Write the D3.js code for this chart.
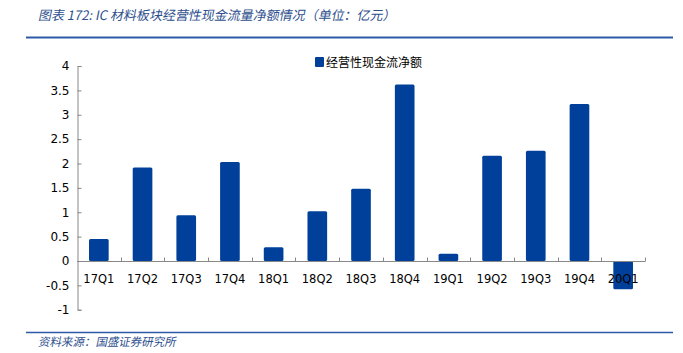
<!DOCTYPE html>
<html>
<head>
<meta charset="utf-8">
<script src="https://cdn.jsdelivr.net/npm/d3@7"></script>
<style>
  body { margin: 0; background: #fff; }
  svg { display: block; }
</style>
</head>
<body>
<svg width="683" height="353"></svg>
<script>
// Data
const quarters = ["17Q1", "17Q2", "17Q3", "17Q4", "18Q1", "18Q2", "18Q3", "18Q4", "19Q1", "19Q2", "19Q3", "19Q4", "20Q1"];
const cashFlow = [0.45, 1.92, 0.94, 2.03, 0.28, 1.02, 1.48, 3.62, 0.15, 2.16, 2.26, 3.22, -0.58];
const yTicks = [-1, -0.5, 0, 0.5, 1, 1.5, 2, 2.5, 3, 3.5, 4];
const seriesName = "经营性现金流净额";

const blue = "#00409a";
const svg = d3.select("svg");

// Header and footer (slanted like the report style)
svg.append("text")
  .attr("transform", "translate(38,20) skewX(-12)")
  .attr("font-family", "Noto Sans CJK SC")
  .attr("font-size", 13)
  .attr("fill", "#2d4f8e")
  .text("图表 172:  IC 材料板块经营性现金流量净额情况（单位：亿元）");

svg.append("line")
  .attr("x1", 26).attr("x2", 673).attr("y1", 37.5).attr("y2", 37.5)
  .attr("stroke", "#2d5aa8").attr("stroke-width", 2);

svg.append("line")
  .attr("x1", 26).attr("x2", 673).attr("y1", 332.5).attr("y2", 332.5)
  .attr("stroke", "#2d5aa8").attr("stroke-width", 1.5);

svg.append("text")
  .attr("transform", "translate(38,346) skewX(-12)")
  .attr("font-family", "Noto Sans CJK SC")
  .attr("font-size", 11.5)
  .attr("fill", "#2d4f8e")
  .text("资料来源：国盛证券研究所");

// Scales
const x = d3.scaleBand().domain(quarters).range([77, 645]).paddingInner(0.55).paddingOuter(0.275);
const y = d3.scaleLinear().domain([-1, 4]).range([309.75, 66]);

// Y axis
const yAxis = svg.append("g")
  .attr("transform", "translate(77.5,0)")
  .call(d3.axisRight(y).tickValues(yTicks).tickSize(4).tickFormat(d => String(d)));
yAxis.select(".domain").attr("stroke", "#888");
yAxis.selectAll(".tick line").attr("stroke", "#888");
yAxis.selectAll(".tick text")
  .attr("x", -8).attr("text-anchor", "end")
  .attr("font-family", "DejaVu Sans").attr("font-size", 12).attr("fill", "#000");

// Bars
svg.append("g").selectAll("rect")
  .data(quarters)
  .enter()
  .append("rect")
  .attr("x", d => x(d))
  .attr("width", x.bandwidth())
  .attr("y", (d, i) => y(Math.max(0, cashFlow[i])))
  .attr("height", (d, i) => Math.abs(y(cashFlow[i]) - y(0)))
  .attr("rx", 1.5)
  .attr("fill", blue);

// X axis at zero
const xGrid = d3.scaleLinear().domain([0, quarters.length]).range([77, 645]);
const xAxis = svg.append("g").attr("transform", `translate(0,${Math.round(y(0)) + 0.5})`);
xAxis.append("line")
  .attr("x1", 77).attr("x2", 645)
  .attr("stroke", "#888");
xAxis.selectAll(".sep")
  .data(d3.range(1, quarters.length + 1))
  .enter()
  .append("line")
  .attr("x1", d => Math.round(xGrid(d)) + 0.5)
  .attr("x2", d => Math.round(xGrid(d)) + 0.5)
  .attr("y1", 0).attr("y2", -4)
  .attr("stroke", "#888");
xAxis.selectAll(".lab")
  .data(quarters)
  .enter()
  .append("text")
  .attr("x", d => x(d) + x.bandwidth() / 2)
  .attr("y", 21)
  .attr("text-anchor", "middle")
  .attr("font-family", "DejaVu Sans").attr("font-size", 11.5).attr("fill", "#000")
  .text(d => d);

// Legend
svg.append("rect")
  .attr("x", 315).attr("y", 57).attr("width", 9).attr("height", 10)
  .attr("rx", 1).attr("fill", blue);
svg.append("text")
  .attr("x", 326).attr("y", 66.5)
  .attr("font-family", "Noto Sans CJK SC").attr("font-size", 12).attr("fill", "#000")
  .text(seriesName);
</script>
</body>
</html>
